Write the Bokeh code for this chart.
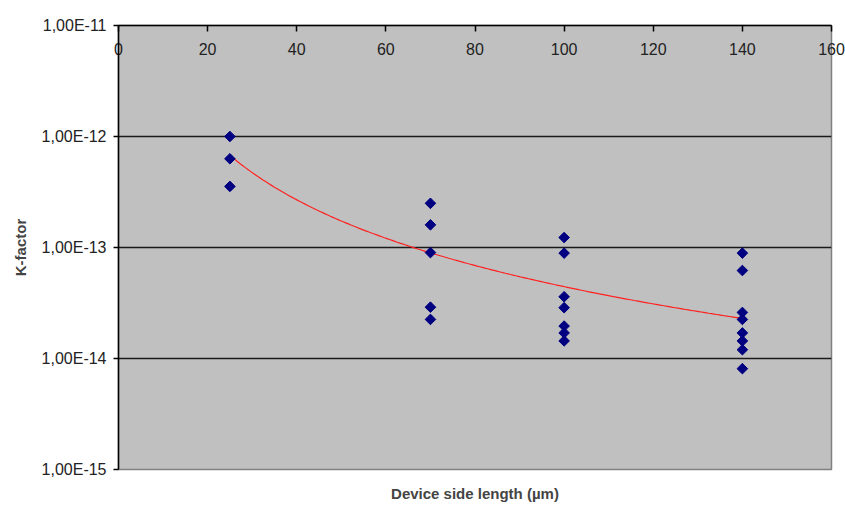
import numpy as np
from bokeh.plotting import figure
from bokeh.models import LinearAxis, FixedTicker, CustomJSTickFormatter, Range1d
from bokeh.embed import file_html
from bokeh.resources import INLINE

# Data (device side length in µm, K-factor)
x_25 = [25, 25, 25]
k_25 = [1.0e-12, 6.3e-13, 3.55e-13]
x_70 = [70, 70, 70, 70, 70]
k_70 = [2.5e-13, 1.6e-13, 9.0e-14, 2.9e-14, 2.25e-14]
x_100 = [100] * 7
k_100 = [1.23e-13, 8.9e-14, 3.6e-14, 2.87e-14, 1.96e-14, 1.7e-14, 1.44e-14]
x_140 = [140] * 8
k_140 = [8.9e-14, 6.2e-14, 2.6e-14, 2.25e-14, 1.7e-14, 1.44e-14, 1.2e-14, 8.1e-15]

# Power trendline coefficients: K = a * x^b
trend_a = 3.78e-10
trend_b = -1.965
trend_x_range = [25, 140]

x_ticks = [0, 20, 40, 60, 80, 100, 120, 140, 160]
y_ticks = [1e-15, 1e-14, 1e-13, 1e-12, 1e-11]

xs = x_25 + x_70 + x_100 + x_140
ks = k_25 + k_70 + k_100 + k_140

FONT = "Liberation Sans"

p = figure(width=845, height=505, output_backend="svg", toolbar_location=None,
           y_axis_type="log", x_axis_location=None,
           x_range=Range1d(0, 160), y_range=Range1d(1e-15, 1e-11),
           min_border_left=118, min_border_right=14, min_border_top=25, min_border_bottom=36)
p.background_fill_color = "#C0C0C0"
p.border_fill_color = "white"
p.outline_line_color = "#808080"
p.outline_line_width = 1.5

# grid
p.xgrid.visible = False
p.ygrid.ticker = FixedTicker(ticks=y_ticks)
p.ygrid.grid_line_color = "#1a1a1a"
p.ygrid.grid_line_width = 1.3

# y axis
ya = p.yaxis[0]
ya.ticker = FixedTicker(ticks=y_ticks)
ya.formatter = CustomJSTickFormatter(code='return "1,00E" + Math.round(Math.log10(tick));')
ya.minor_tick_line_color = None
ya.major_tick_in = 0
ya.major_tick_out = 5
ya.axis_line_width = 1.5
ya.major_tick_line_width = 1.5
ya.major_label_text_font = FONT
ya.major_label_text_font_size = "16px"
ya.major_label_text_color = "#222"
ya.major_label_standoff = 7
ya.axis_label = "K-factor"
ya.axis_label_text_font = FONT
ya.axis_label_text_font_style = "bold"
ya.axis_label_text_font_size = "15px"
ya.axis_label_standoff = 10

# top x axis with labels inside the plot
top = LinearAxis(ticker=FixedTicker(ticks=x_ticks))
top.major_tick_in = 6
top.major_tick_out = 0
top.minor_tick_line_color = None
top.axis_line_width = 1.5
top.major_tick_line_width = 1.5
top.major_label_standoff = -29
top.major_label_text_font = FONT
top.major_label_text_font_size = "16px"
top.major_label_text_color = "#222"
p.add_layout(top, "above")

# bottom axis only for the title
bot = LinearAxis(ticker=FixedTicker(ticks=[]))
bot.axis_line_color = None
bot.major_tick_line_color = None
bot.minor_tick_line_color = None
bot.major_label_text_font_size = "0px"
bot.axis_label = "Device side length (µm)"
bot.axis_label_text_font = FONT
bot.axis_label_text_font_style = "bold"
bot.axis_label_text_font_size = "15px"
bot.axis_label_standoff = 15
p.add_layout(bot, "below")

# trendline
tx = np.linspace(trend_x_range[0], trend_x_range[1], 200)
ty = trend_a * tx ** trend_b
p.line(tx, ty, line_color="#FF2020", line_width=1.2)

# points
p.scatter(xs, ks, marker="square", angle=np.pi / 4, size=7.5,
          fill_color="#000080", line_color="#000080")

open("out.html", "w").write(file_html(p, INLINE))
